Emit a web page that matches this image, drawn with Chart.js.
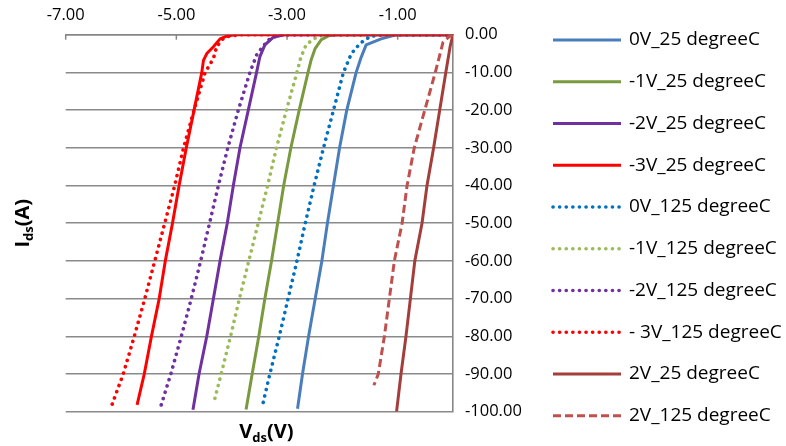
<!DOCTYPE html>
<html lang="en">
<head>
<meta charset="UTF-8">
<title>Ids - Vds</title>
<script src="https://cdn.jsdelivr.net/npm/chart.js"></script>
<style>
  body { margin: 0; background: #fff; }
</style>
</head>
<body>
<canvas id="chart" width="786" height="446"></canvas>
<script>
// series names (legend order)
const seriesNames = [
    '0V_25 degreeC', '-1V_25 degreeC', '-2V_25 degreeC', '-3V_25 degreeC',
    '0V_125 degreeC', '-1V_125 degreeC', '-2V_125 degreeC', '- 3V_125 degreeC',
    '2V_25 degreeC', '2V_125 degreeC'
];

// Vds (V) / Ids (A) for each gate bias
const vds0V25 = [0, -0.60, -1.03, -1.30, -1.57, -1.66, -1.75, -1.92, -2.05, -2.16, -2.27, -2.37, -2.49, -2.61, -2.72, -2.81];
const ids0V25 = [0, 0, 0, -1.1, -2.7, -6, -10, -20, -30, -40, -50, -60, -70, -80, -90, -99.2];

const vdsM1V25 = [0, -2.10, -2.25, -2.38, -2.49, -2.56, -2.62, -2.78, -2.93, -3.06, -3.17, -3.28, -3.40, -3.51, -3.63, -3.74];
const idsM1V25 = [0, 0, -0.3, -1.3, -3.6, -6.5, -10, -20, -30, -40, -50, -60, -70, -80, -90, -99.4];

const vdsM2V25 = [0, -3.05, -3.25, -3.40, -3.49, -3.55, -3.70, -3.85, -3.97, -4.08, -4.21, -4.33, -4.45, -4.59, -4.70];
const idsM2V25 = [0, 0, -0.7, -2.7, -5.8, -10, -20, -30, -40, -50, -60, -70, -80, -90, -99.5];

const vdsM3V25 = [0, -3.95, -4.09, -4.21, -4.33, -4.45, -4.51, -4.54, -4.68, -4.82, -4.95, -5.07, -5.20, -5.31, -5.45, -5.58, -5.71];
const idsM3V25 = [0, 0, -0.4, -1.1, -3.2, -5.0, -6.8, -10, -20, -30, -40, -50, -60, -70, -80, -90, -98.2];

const vds0V125 = [0, -1.25, -1.38, -1.50, -1.68, -1.84, -1.98, -2.16, -2.34, -2.51, -2.67, -2.82, -2.98, -3.14, -3.31, -3.45];
const ids0V125 = [0, 0, -0.2, -0.5, -2.3, -5.1, -10, -20, -30, -40, -50, -60, -70, -80, -90, -98.8];

const vdsM1V125 = [0, -2.30, -2.45, -2.58, -2.67, -2.75, -2.82, -3.01, -3.19, -3.35, -3.52, -3.69, -3.86, -4.02, -4.19, -4.33];
const idsM1V125 = [0, 0, -0.5, -1.8, -3.2, -6, -10, -20, -30, -40, -50, -60, -70, -80, -90, -98];

const vdsM2V125 = [0, -3.00, -3.19, -3.34, -3.46, -3.55, -3.67, -3.88, -4.07, -4.24, -4.40, -4.56, -4.73, -4.91, -5.10, -5.28];
const idsM2V125 = [0, 0, -0.3, -1.4, -3.6, -5.4, -10, -20, -30, -40, -50, -60, -70, -80, -90, -98.5];

const vdsM3V125 = [0, -3.85, -4.05, -4.15, -4.27, -4.33, -4.41, -4.48, -4.68, -4.87, -5.03, -5.21, -5.39, -5.57, -5.76, -5.96, -6.17];
const idsM3V125 = [0, 0, -0.4, -1.0, -3.1, -6.3, -8.3, -10, -20, -30, -40, -50, -60, -70, -80, -90, -98.4];

const vds2V25 = [0, -0.05, -0.13, -0.24, -0.35, -0.47, -0.56, -0.69, -0.77, -0.85, -0.94, -1.02];
const ids2V25 = [0, -3, -10, -20, -30, -40, -50, -60, -70, -80, -90, -100];

const vds2V125 = [0, -0.07, -0.18, -0.32, -0.51, -0.70, -0.83, -0.92, -1.06, -1.15, -1.24, -1.35, -1.43];
const ids2V125 = [0, -0.5, -2, -10, -20, -30, -40, -50, -60, -70, -80, -90, -93];

const xTicks = [-7, -5, -3, -1];
const yTicks = [0, -10, -20, -30, -40, -50, -60, -70, -80, -90, -100];

const vdsAll = [vds0V25, vdsM1V25, vdsM2V25, vdsM3V25, vds0V125, vdsM1V125, vdsM2V125, vdsM3V125, vds2V25, vds2V125];
const idsAll = [ids0V25, idsM1V25, idsM2V25, idsM3V25, ids0V125, idsM1V125, idsM2V125, idsM3V125, ids2V25, ids2V125];

// line styles
const colors = ['#4A7EBB', '#7A9A3F', '#7030A0', '#FF0000', '#0070C0', '#9BBB59', '#7030A0', '#FF0000', '#A33E3B', '#C0504D'];
const solid = { width: 3, dash: [], cap: 'butt' };
const dotted = { width: 3.6, dash: [0.1, 6.5], cap: 'round' };
const dashed = { width: 3, dash: [8, 4], cap: 'butt' };
const styles = [solid, solid, solid, solid, dotted, dotted, dotted, dotted, solid, dashed];

const FONT = "'Open Sans', sans-serif";

const datasets = seriesNames.map((name, i) => ({
    label: name,
    data: vdsAll[i].map((v, k) => ({ x: v, y: idsAll[i][k] })),
    borderColor: colors[i],
    borderWidth: styles[i].width,
    borderDash: styles[i].dash,
    borderCapStyle: styles[i].cap,
    borderJoinStyle: 'round',
    showLine: true,
    pointRadius: 0,
    tension: 0,
    order: seriesNames.length - i
}));

// draws text pieces with a subscript part
function drawParts(ctx, parts, x, y) {
    let total = 0;
    parts.forEach(p => { ctx.font = 'bold ' + p.size + 'px ' + FONT; p.w = ctx.measureText(p.t).width; total += p.w; });
    let cx = x - total / 2;
    parts.forEach(p => {
        ctx.font = 'bold ' + p.size + 'px ' + FONT;
        ctx.fillText(p.t, cx, y + p.dy);
        cx += p.w;
    });
}

const extras = {
    id: 'extras',
    beforeDatasetsDraw(chart) {
        const { ctx, chartArea, scales: { x } } = chart;
        ctx.save();
        ctx.strokeStyle = '#868686';
        ctx.lineWidth = 1.5;
        xTicks.forEach(v => {
            const px = x.getPixelForValue(v);
            ctx.beginPath();
            ctx.moveTo(px, chartArea.top);
            ctx.lineTo(px, chartArea.top + 5);
            ctx.stroke();
        });
        ctx.restore();
    },
    afterDraw(chart) {
        const { ctx, chartArea } = chart;
        ctx.save();
        ctx.fillStyle = '#000';
        ctx.textBaseline = 'alphabetic';

        // axis titles
        drawParts(ctx, [
            { t: 'V', size: 20, dy: 0 }, { t: 'ds', size: 13, dy: 4 }, { t: '(V)', size: 20, dy: 0 }
        ], (chartArea.left + chartArea.right) / 2 + 7, chartArea.bottom + 26);

        ctx.save();
        ctx.translate(29, (chartArea.top + chartArea.bottom) / 2);
        ctx.rotate(-Math.PI / 2);
        drawParts(ctx, [
            { t: 'I', size: 20, dy: 0 }, { t: 'ds', size: 13, dy: 4 }, { t: '(A)', size: 20, dy: 0 }
        ], 0, 0);
        ctx.restore();

        // series key
        const x0 = 553, len = 68, row0 = 40, step = 41.74;
        chart.data.datasets.forEach((ds, i) => {
            const y = row0 + i * step;
            ctx.save();
            ctx.strokeStyle = ds.borderColor;
            ctx.lineWidth = ds.borderWidth;
            ctx.setLineDash(ds.borderDash);
            ctx.lineCap = ds.borderCapStyle;
            ctx.beginPath();
            ctx.moveTo(x0, y);
            ctx.lineTo(x0 + len, y);
            ctx.stroke();
            ctx.restore();
            ctx.font = '19px ' + FONT;
            ctx.textBaseline = 'middle';
            ctx.fillText(ds.label, x0 + len + 8, y);
        });
        ctx.restore();
    }
};

new Chart(document.getElementById('chart'), {
    type: 'scatter',
    data: { datasets },
    options: {
        responsive: false,
        animation: false,
        layout: { padding: { left: 65.7, right: 237, top: 0, bottom: 34.3 } },
        plugins: { legend: { display: false }, tooltip: { enabled: false } },
        scales: {
            x: {
                type: 'linear',
                position: 'top',
                min: -7,
                max: 0,
                afterBuildTicks: s => { s.ticks = xTicks.map(v => ({ value: v })); },
                afterFit: s => { s.height = 34.7; },
                ticks: {
                    callback: v => v.toFixed(2),
                    color: '#000',
                    font: { family: FONT, size: 16.5 },
                    padding: 10,
                    maxRotation: 0,
                    autoSkip: false
                },
                grid: { display: false, drawTicks: false },
                border: { display: true, color: '#868686', width: 1.5 }
            },
            y: {
                type: 'linear',
                position: 'right',
                min: -100,
                max: 0,
                afterBuildTicks: s => { s.ticks = yTicks.map(v => ({ value: v })); },
                afterFit: s => { s.width = 96; },
                ticks: {
                    callback: v => v.toFixed(2),
                    color: '#000',
                    font: { family: FONT, size: 16.5 },
                    padding: 12
                },
                grid: { color: '#8a8a8a', lineWidth: 1.6, drawTicks: false },
                border: { display: true, color: '#868686', width: 1.6 }
            }
        }
    },
    plugins: [extras]
});
</script>
</body>
</html>
